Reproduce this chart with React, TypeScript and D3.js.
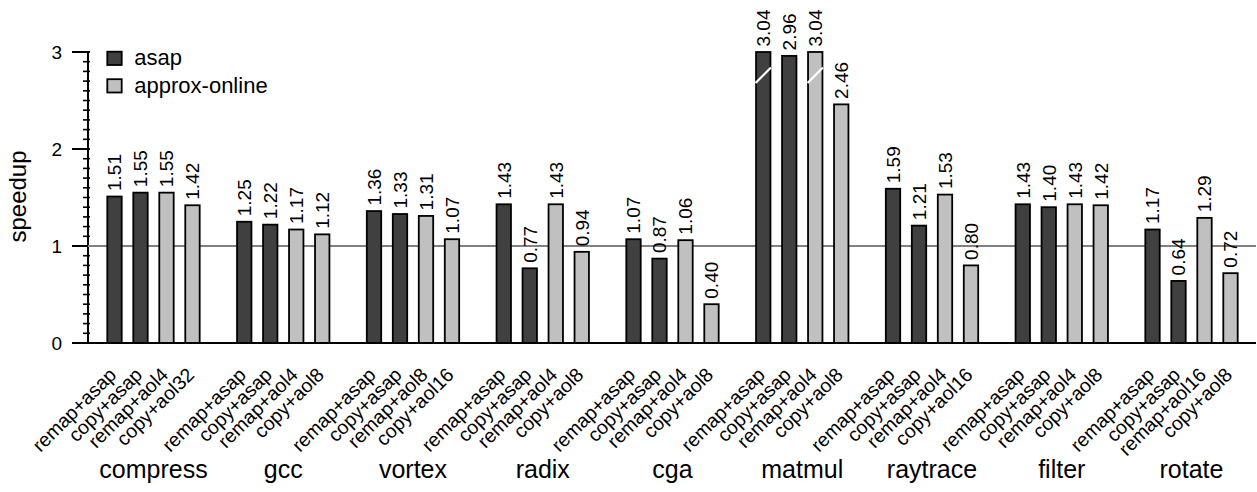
import React from 'react';
import * as d3 from 'd3';

const benchmarks = ['compress', 'gcc', 'vortex', 'radix', 'cga', 'matmul', 'raytrace', 'filter', 'rotate'];

const configs = [
  ['remap+asap', 'copy+asap', 'remap+aol4', 'copy+aol32'],
  ['remap+asap', 'copy+asap', 'remap+aol4', 'copy+aol8'],
  ['remap+asap', 'copy+asap', 'remap+aol8', 'copy+aol16'],
  ['remap+asap', 'copy+asap', 'remap+aol4', 'copy+aol8'],
  ['remap+asap', 'copy+asap', 'remap+aol4', 'copy+aol8'],
  ['remap+asap', 'copy+asap', 'remap+aol4', 'copy+aol8'],
  ['remap+asap', 'copy+asap', 'remap+aol4', 'copy+aol16'],
  ['remap+asap', 'copy+asap', 'remap+aol4', 'copy+aol8'],
  ['remap+asap', 'copy+asap', 'remap+aol16', 'copy+aol8'],
];

const speedups = [
  [1.51, 1.55, 1.55, 1.42],
  [1.25, 1.22, 1.17, 1.12],
  [1.36, 1.33, 1.31, 1.07],
  [1.43, 0.77, 1.43, 0.94],
  [1.07, 0.87, 1.06, 0.40],
  [3.04, 2.96, 3.04, 2.46],
  [1.59, 1.21, 1.53, 0.80],
  [1.43, 1.40, 1.43, 1.42],
  [1.17, 0.64, 1.29, 0.72],
];

// which policy each bar slot belongs to
const policy = ['asap', 'asap', 'approx-online', 'approx-online'];
const legendItems = ['asap', 'approx-online'];
const yTicks = [0, 1, 2, 3];

const W = 1257;
const H = 492;
const FONT = '"Liberation Sans", Arial, Helvetica, sans-serif';

export default function App() {
  const yMax = 3;
  const y = d3.scaleLinear().domain([0, yMax]).range([343, 52]);
  const xg = d3.scaleBand<string>().domain(benchmarks).range([107.3, 1237.7]).paddingInner(0.288).paddingOuter(0);
  const xb = d3.scaleBand<number>().domain([0, 1, 2, 3]).range([0, xg.bandwidth()]).paddingInner(0.446).paddingOuter(0);
  const color = d3.scaleOrdinal<string, string>().domain(legendItems).range(['#404040', '#c0c0c0']);
  const minor = d3.range(0, yMax + 0.001, 0.1);

  return (
    <svg width={W} height={H} style={{ position: 'absolute', left: 0, top: 0 }} fontFamily={FONT}>
      <rect width={W} height={H} fill="#fff" />
      {/* y axis */}
      <line x1={88} x2={88} y1={y(0)} y2={y(yMax)} stroke="#000" strokeWidth={2} />
      {minor.map((t, i) => (
        <line key={'m' + i} x1={83} x2={90} y1={y(t)} y2={y(t)} stroke="#000" strokeWidth={1.6} />
      ))}
      {yTicks.map(t => (
        <g key={'t' + t}>
          <line x1={72} x2={90} y1={y(t)} y2={y(t)} stroke="#000" strokeWidth={2} />
          <text x={62} y={y(t)} dy="0.36em" textAnchor="end" fontSize={19}>{t}</text>
        </g>
      ))}
      <text transform={`translate(26,${(y(0) + y(yMax)) / 2 - 1}) rotate(-90)`} textAnchor="middle" fontSize={24}>speedup</text>

      {/* reference line at 1 */}
      <line x1={88} x2={1256} y1={y(1)} y2={y(1)} stroke="#808080" strokeWidth={2} />

      {/* bars */}
      {benchmarks.map((b, gi) => (
        <g key={b} transform={`translate(${xg(b)},0)`}>
          {speedups[gi].map((v, i) => {
            const x0 = xb(i)!;
            const w = xb.bandwidth();
            const top = y(Math.min(v, yMax));
            const cx = x0 + w / 2;
            return (
              <g key={i}>
                <rect x={x0} y={top} width={w} height={y(0) - top} fill={color(policy[i])} stroke="#000" strokeWidth={1.8} />
                {v > yMax && (
                  <line x1={x0 - 0.5} x2={x0 + w + 0.5} y1={y(2.68)} y2={y(2.84)} stroke="#fff" strokeWidth={2.2} />
                )}
                <text transform={`translate(${cx + 6.8},${top - 5.5}) rotate(-90)`} fontSize={19}>{v.toFixed(2)}</text>
                <text transform={`translate(${cx + 3},${376}) rotate(-45)`} textAnchor="end" fontSize={19.5}>{configs[gi][i]}</text>
              </g>
            );
          })}
          <text x={xg.bandwidth() / 2} y={478} textAnchor="middle" fontSize={25}>{b}</text>
        </g>
      ))}

      {/* x baseline */}
      <line x1={72} x2={1256} y1={y(0)} y2={y(0)} stroke="#000" strokeWidth={2} />

      {/* legend */}
      {legendItems.map((k, i) => (
        <g key={k} transform={`translate(107.3,${51.7 + i * 27.5})`}>
          <rect width={14.4} height={13.3} fill={color(k)} stroke="#000" strokeWidth={1.8} />
          <text x={27} y={13.3} fontSize={22}>{k}</text>
        </g>
      ))}
    </svg>
  );
}
